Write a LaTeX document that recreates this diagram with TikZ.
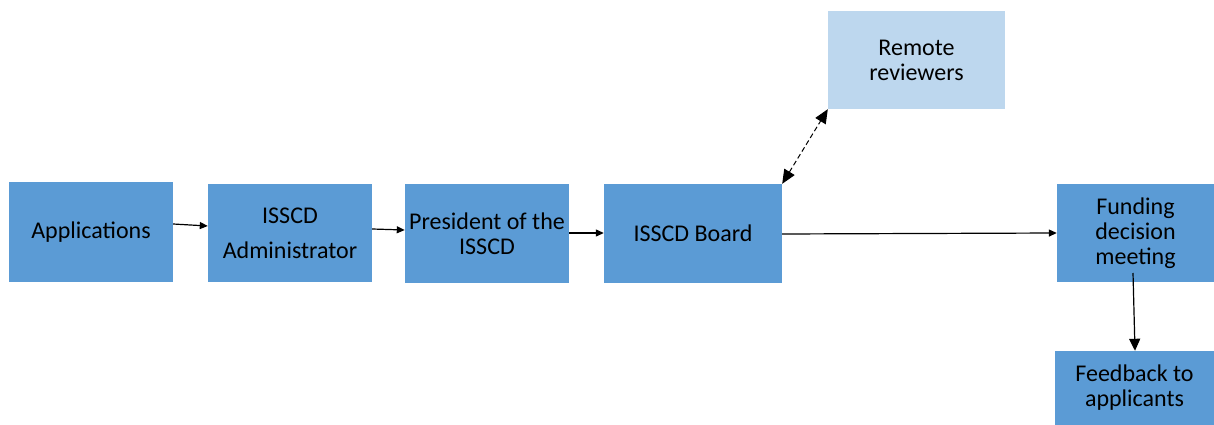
\documentclass[tikz,border=0pt]{standalone}
\usepackage{fontspec}
\setmainfont{Carlito}
\usetikzlibrary{arrows.meta}
\definecolor{boxblue}{HTML}{5B9BD5}
\definecolor{lightblue}{HTML}{BDD7EE}
\begin{document}
\begin{tikzpicture}[x=1pt,y=-1pt,
  box/.style={fill=boxblue, draw=none, inner sep=0pt, align=center, text=black,
    font=\fontsize{24}{25}\selectfont},
  lightbox/.style={box, fill=lightblue},
  flow/.style={draw=black, line width=1.2pt, -{Triangle[length=8pt,width=7pt]}},
  bigflow/.style={draw=black, line width=1.2pt, -{Triangle[length=12pt,width=11pt]}},
  dashflow/.style={draw=black, line width=1pt, dash pattern=on 5pt off 3pt,
    {Triangle[length=14pt,width=12pt]}-{Triangle[length=14pt,width=12pt]}}]
\useasboundingbox (0,0) rectangle (1214,425);
\node[box, minimum width=164pt, minimum height=100pt] (app) at (91,232) {Applications};
\node[box, minimum width=164pt, minimum height=98pt] (adm) at (290,233) {ISSCD\\[10pt]Administrator};
\node[box, minimum width=164pt, minimum height=99pt] (pres) at (487,233.5) {President of the\\ISSCD};
\node[box, minimum width=178pt, minimum height=99pt] (board) at (693,233.5) {ISSCD Board};
\node[lightbox, minimum width=177pt, minimum height=98pt] (rem) at (916.5,60) {Remote\\reviewers};
\node[box, minimum width=157pt, minimum height=98pt] (fund) at (1135.5,233) {Funding\\decision\\meeting};
\node[box, minimum width=159pt, minimum height=74pt] (feed) at (1134.5,388) {Feedback to\\applicants};
\coordinate (fundstart) at (1133,273);
\draw[flow] ([yshift=8pt]app.east) -- ([yshift=7pt]adm.west);
\draw[flow] ([yshift=4pt]adm.east) -- ([yshift=3.5pt]pres.west);
\draw[flow] ([yshift=0.5pt]pres.east) -- ([yshift=0.5pt]board.west);
\draw[flow] ([yshift=-0.5pt]board.east) -- (fund.west);
\draw[bigflow] (fundstart) -- ([xshift=0.5pt]feed.north);
\draw[dashflow] (board.north east) -- (rem.south west);
\end{tikzpicture}
\end{document}
